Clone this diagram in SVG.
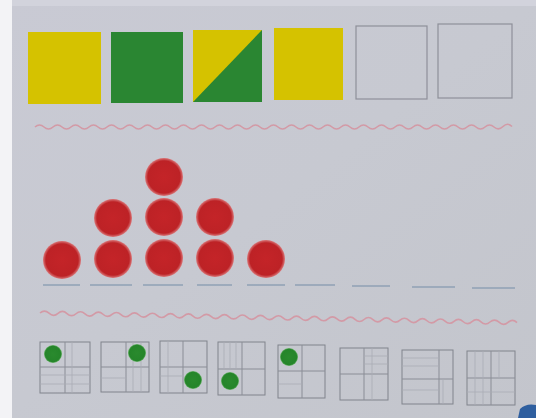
<svg xmlns="http://www.w3.org/2000/svg" width="536" height="418" viewBox="0 0 536 418">
<defs>
<linearGradient id="paper" x1="0" y1="0" x2="1" y2="1">
<stop offset="0" stop-color="#c9cad4"/>
<stop offset="0.5" stop-color="#c7c9d1"/>
<stop offset="1" stop-color="#c3c5cc"/>
</linearGradient>
<radialGradient id="red" cx="0.5" cy="0.5" r="0.5">
<stop offset="0" stop-color="#c42428"/>
<stop offset="0.85" stop-color="#bd2226"/>
<stop offset="1" stop-color="#d9787a"/>
</radialGradient>
<radialGradient id="grn" cx="0.5" cy="0.5" r="0.5">
<stop offset="0" stop-color="#2a8a2e"/>
<stop offset="0.85" stop-color="#25852a"/>
<stop offset="1" stop-color="#6ab36a"/>
</radialGradient>
</defs>
<style>
.yel{fill:#d5c200}
.gr{fill:#2a8632}
.box{fill:none;stroke:#8e9099;stroke-width:1.2}
.wave{fill:none;stroke:#d39aa6;stroke-width:1.6}
.dash{stroke:#8fa0b4;stroke-width:1.4}
.gbox{fill:none;stroke:#80838c;stroke-width:1}
.gin{stroke:#8a8d96;stroke-width:1}
.gfaint{stroke:#a9acb5;stroke-width:0.8}
</style>
<rect width="536" height="418" fill="url(#paper)"/>
<rect x="0" y="0" width="12" height="418" fill="#f3f3f6"/>
<rect x="12" y="0" width="524" height="6" fill="#d2d3dc"/>

<g id="squares">
<rect id="sq1" class="yel" x="28" y="32" width="73" height="72"/>
<rect id="sq2" class="gr" x="111" y="32" width="72" height="71"/>
<g id="sq3">
<rect class="yel" x="193" y="30" width="69" height="72"/>
<polygon class="gr" points="193,102 262,30 262,102"/>
</g>
<rect id="sq4" class="yel" x="274" y="28" width="69" height="72"/>
<rect id="sq5" class="box" x="356" y="26" width="71" height="73"/>
<rect id="sq6" class="box" x="438" y="24" width="74" height="74"/>
</g>

<path class="wave" d="M35,127 q4.5,-4 9,0 t9,0 t9,0 t9,0 t9,0 t9,0 t9,0 t9,0 t9,0 t9,0 t9,0 t9,0 t9,0 t9,0 t9,0 t9,0 t9,0 t9,0 t9,0 t9,0 t9,0 t9,0 t9,0 t9,0 t9,0 t9,0 t9,0 t9,0 t9,0 t9,0 t9,0 t9,0 t9,0 t9,0 t9,0 t9,0 t9,0 t9,0 t9,0 t9,0 t9,0 t9,0 t9,0 t9,0 t9,0 t9,0 t9,0 t9,0 t9,0 t9,0 t9,0 t9,-0.5 t9,0"/>

<g id="counters">
<circle cx="62" cy="260" r="19" fill="url(#red)"/>
<circle cx="113" cy="259" r="19" fill="url(#red)"/>
<circle cx="164" cy="258" r="19" fill="url(#red)"/>
<circle cx="215" cy="258" r="19" fill="url(#red)"/>
<circle cx="266" cy="259" r="19" fill="url(#red)"/>
<circle cx="113" cy="218" r="19" fill="url(#red)"/>
<circle cx="164" cy="217" r="19" fill="url(#red)"/>
<circle cx="215" cy="217" r="19" fill="url(#red)"/>
<circle cx="164" cy="177" r="19" fill="url(#red)"/>
</g>

<g id="answer-lines">
<line class="dash" x1="43" y1="285" x2="80" y2="285"/>
<line class="dash" x1="90" y1="285" x2="132" y2="285"/>
<line class="dash" x1="143" y1="285" x2="183" y2="285"/>
<line class="dash" x1="197" y1="285" x2="232" y2="285"/>
<line class="dash" x1="247" y1="285" x2="285" y2="285"/>
<line class="dash" x1="295" y1="285" x2="335" y2="285"/>
<line class="dash" x1="352" y1="286" x2="390" y2="286"/>
<line class="dash" x1="412" y1="287" x2="455" y2="287"/>
<line class="dash" x1="472" y1="288" x2="515" y2="288"/>
</g>

<path class="wave" d="M40,313 q4.5,-4 9,0.2 t9,0.18 t9,0.18 t9,0.18 t9,0.18 t9,0.18 t9,0.18 t9,0.18 t9,0.18 t9,0.18 t9,0.18 t9,0.18 t9,0.18 t9,0.18 t9,0.18 t9,0.18 t9,0.18 t9,0.18 t9,0.18 t9,0.18 t9,0.18 t9,0.18 t9,0.18 t9,0.18 t9,0.18 t9,0.18 t9,0.18 t9,0.18 t9,0.18 t9,0.18 t9,0.18 t9,0.18 t9,0.18 t9,0.18 t9,0.18 t9,0.18 t9,0.18 t9,0.18 t9,0.18 t9,0.18 t9,0.18 t9,0.18 t9,0.18 t9,0.18 t9,0.18 t9,0.18 t9,0.18 t9,0.18 t9,0.18 t9,0.18 t9,0.18 t9,0.18 t9,0.18"/>

<g id="grid1">
<rect class="gbox" x="40" y="342" width="50" height="51"/>
<line class="gin" x1="65" y1="342" x2="65" y2="393"/>
<line class="gin" x1="40" y1="367" x2="90" y2="367"/>
<line class="gfaint" x1="72" y1="342" x2="72" y2="393"/>
<line class="gfaint" x1="40" y1="375" x2="90" y2="375"/>
<line class="gfaint" x1="40" y1="384" x2="90" y2="384"/>
<circle cx="53" cy="354" r="9" fill="url(#grn)"/>
</g>
<g id="grid2">
<rect class="gbox" x="101" y="342" width="48" height="50"/>
<line class="gin" x1="126" y1="342" x2="126" y2="392"/>
<line class="gin" x1="101" y1="367" x2="149" y2="367"/>
<line class="gfaint" x1="133" y1="342" x2="133" y2="392"/>
<line class="gfaint" x1="141" y1="342" x2="141" y2="392"/>
<line class="gfaint" x1="101" y1="378" x2="126" y2="378"/>
<circle cx="137" cy="353" r="9" fill="url(#grn)"/>
</g>
<g id="grid3">
<rect class="gbox" x="160" y="341" width="47" height="52"/>
<line class="gin" x1="183" y1="341" x2="183" y2="393"/>
<line class="gin" x1="160" y1="367" x2="207" y2="367"/>
<line class="gfaint" x1="168" y1="341" x2="168" y2="393"/>
<line class="gfaint" x1="160" y1="376" x2="183" y2="376"/>
<circle cx="193" cy="380" r="9" fill="url(#grn)"/>
</g>
<g id="grid4">
<rect class="gbox" x="218" y="342" width="47" height="53"/>
<line class="gin" x1="242" y1="342" x2="242" y2="395"/>
<line class="gin" x1="218" y1="369" x2="265" y2="369"/>
<line class="gfaint" x1="224" y1="342" x2="224" y2="369"/>
<line class="gfaint" x1="230" y1="342" x2="230" y2="369"/>
<line class="gfaint" x1="236" y1="342" x2="236" y2="369"/>
<circle cx="230" cy="381" r="9" fill="url(#grn)"/>
</g>
<g id="grid5">
<rect class="gbox" x="278" y="345" width="47" height="53"/>
<line class="gin" x1="302" y1="345" x2="302" y2="398"/>
<line class="gin" x1="278" y1="371" x2="325" y2="371"/>
<line class="gfaint" x1="278" y1="384" x2="302" y2="384"/>
<circle cx="289" cy="357" r="9" fill="url(#grn)"/>
</g>
<g id="grid6">
<rect class="gbox" x="340" y="348" width="48" height="52"/>
<line class="gin" x1="364" y1="348" x2="364" y2="400"/>
<line class="gin" x1="340" y1="374" x2="388" y2="374"/>
<line class="gfaint" x1="372" y1="348" x2="372" y2="400"/>
<line class="gfaint" x1="364" y1="356" x2="388" y2="356"/>
<line class="gfaint" x1="364" y1="364" x2="388" y2="364"/>
</g>
<g id="grid7">
<rect class="gbox" x="402" y="350" width="51" height="54"/>
<line class="gin" x1="439" y1="350" x2="439" y2="404"/>
<line class="gin" x1="402" y1="379" x2="453" y2="379"/>
<line class="gfaint" x1="402" y1="358" x2="439" y2="358"/>
<line class="gfaint" x1="402" y1="366" x2="439" y2="366"/>
<line class="gfaint" x1="402" y1="390" x2="439" y2="390"/>
<line class="gfaint" x1="443" y1="379" x2="443" y2="404"/>
</g>
<g id="grid8">
<rect class="gbox" x="467" y="351" width="48" height="54"/>
<line class="gin" x1="491" y1="351" x2="491" y2="405"/>
<line class="gin" x1="467" y1="378" x2="515" y2="378"/>
<line class="gfaint" x1="475" y1="351" x2="475" y2="405"/>
<line class="gfaint" x1="483" y1="351" x2="483" y2="405"/>
<line class="gfaint" x1="499" y1="351" x2="499" y2="378"/>
<line class="gfaint" x1="467" y1="392" x2="515" y2="392"/>
</g>

<path d="M518,418 L520,409 Q526,403 536,405 L536,418 Z" fill="#2f5f9f"/>
</svg>
